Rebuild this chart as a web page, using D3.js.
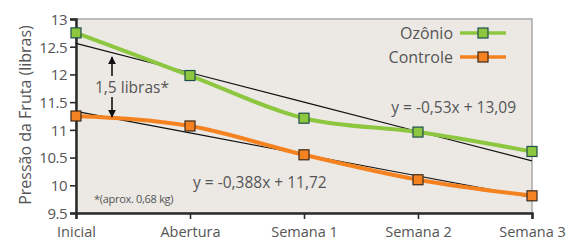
<!DOCTYPE html>
<html>
<head>
<meta charset="utf-8">
<script src="https://cdn.jsdelivr.net/npm/d3@7"></script>
<style>
  body { margin: 0; background: #fff; }
  svg text { font-family: "Open Sans", "Noto Sans", sans-serif; fill: #555; }
</style>
</head>
<body>
<svg id="chart" width="581" height="246"></svg>
<script>
// categories and series
const categories = ['Inicial', 'Abertura', 'Semana 1', 'Semana 2', 'Semana 3'];
const ozonio = [12.75, 11.98, 11.21, 10.96, 10.61];
const controle = [11.25, 11.07, 10.55, 10.10, 9.81];
const yTicks = [9.5, 10, 10.5, 11, 11.5, 12, 12.5, 13];
const yTickLabels = ['9.5', '10', '10.5', '11', '11.5', '12', '12.5', '13'];
// linear trend lines (y = a*x + b, x = 1..5)
const trendOzonio = { a: -0.53, b: 13.09, label: 'y = -0,53x + 13,09' };
const trendControle = { a: -0.388, b: 11.72, label: 'y = -0,388x + 11,72' };

const svg = d3.select('#chart');
const margin = { left: 76, right: 49, top: 19, bottom: 33 };
const width = 581 - margin.left - margin.right;
const height = 246 - margin.top - margin.bottom;

const x = d3.scalePoint().domain(categories).range([0, width]);
const y = d3.scaleLinear().domain([9.5, 13]).range([height, 0]);

const g = svg.append('g').attr('transform', `translate(${margin.left},${margin.top})`);

// plot background
g.append('rect')
  .attr('width', width)
  .attr('height', height)
  .style('fill', '#ece9e5')
  .style('stroke', '#aaa')
  .style('stroke-width', 1.5);

// axes
const yAxis = g.append('g').call(
  d3.axisLeft(y).tickValues(yTicks).tickFormat((d, i) => yTickLabels[i]).tickSize(6).tickPadding(3)
);
const xAxis = g.append('g').attr('transform', `translate(0,${height})`).call(
  d3.axisBottom(x).tickSize(6).tickPadding(8)
);
[yAxis, xAxis].forEach(ax => {
  ax.select('.domain').attr('stroke', '#2b2b2b').attr('stroke-width', 2.5);
  ax.selectAll('.tick line').attr('stroke', '#2b2b2b').attr('stroke-width', 1.6);
  ax.selectAll('.tick text').style('font-size', '15px').style('fill', '#555');
});
yAxis.selectAll('.tick text').attr('dy', '0.36em').style('letter-spacing', '-0.5px');
xAxis.selectAll('.tick text').style('font-size', '14.5px');

// trend lines
const trendLine = d3.line()
  .x((d, i) => x(categories[i]))
  .y(d => y(d));
[trendOzonio, trendControle].forEach(t => {
  const vals = categories.map((c, i) => t.a * (i + 1) + t.b);
  g.append('path')
    .attr('d', trendLine(vals))
    .style('fill', 'none')
    .style('stroke', '#111')
    .style('stroke-width', 1.2);
});

// data series
const series = [
  { name: 'Ozônio', values: ozonio, color: '#8dc63f', stroke: '#1f4f4a' },
  { name: 'Controle', values: controle, color: '#f58220', stroke: '#3b2a1c' },
];
const seriesLine = d3.line()
  .x((d, i) => x(categories[i]))
  .y(d => y(d))
  .curve(d3.curveMonotoneX);

series.forEach(s => {
  g.append('path')
    .attr('d', seriesLine(s.values))
    .style('fill', 'none')
    .style('stroke', s.color)
    .style('stroke-width', 4);
});
series.forEach(s => {
  g.selectAll(null).data(s.values).enter().append('rect')
    .attr('x', (d, i) => x(categories[i]) - 5)
    .attr('y', d => y(d) - 5)
    .attr('width', 10)
    .attr('height', 10)
    .style('fill', s.color)
    .style('stroke', s.stroke)
    .style('stroke-width', 1.2);
});

// legend
const legend = g.append('g').attr('transform', `translate(${453 - margin.left},${33 - margin.top})`);
series.forEach((s, i) => {
  const row = legend.append('g').attr('transform', `translate(0,${i * 24})`);
  row.append('text')
    .attr('text-anchor', 'end')
    .attr('dy', '0.35em')
    .style('font-size', '16px')
    .text(s.name);
  row.append('line')
    .attr('x1', 7).attr('x2', 53)
    .style('stroke', s.color)
    .style('stroke-width', 3.5);
  row.append('rect')
    .attr('x', 25).attr('y', -5)
    .attr('width', 10).attr('height', 10)
    .style('fill', s.color)
    .style('stroke', s.stroke)
    .style('stroke-width', 1.2);
});

// equation labels
g.append('text')
  .attr('x', 516 - margin.left).attr('y', 113 - margin.top)
  .attr('text-anchor', 'end')
  .style('font-size', '15.5px')
  .text(trendOzonio.label);
g.append('text')
  .attr('x', 193 - margin.left).attr('y', 188 - margin.top)
  .style('font-size', '15.5px')
  .text(trendControle.label);

// difference annotation at "Inicial"
const arrowX = x(categories[0]) + 36;
svg.append('defs').append('marker')
  .attr('id', 'arrowhead')
  .attr('viewBox', '0 0 10 10')
  .attr('refX', 9).attr('refY', 5)
  .attr('markerWidth', 5).attr('markerHeight', 5)
  .attr('orient', 'auto')
  .append('path')
  .attr('d', 'M0,0 L10,5 L0,10 Z')
  .style('fill', '#111');
g.append('line')
  .attr('x1', arrowX).attr('x2', arrowX)
  .attr('y1', 76 - margin.top).attr('y2', 57 - margin.top)
  .style('stroke', '#111').style('stroke-width', 1.6)
  .attr('marker-end', 'url(#arrowhead)');
g.append('line')
  .attr('x1', arrowX).attr('x2', arrowX)
  .attr('y1', 97 - margin.top).attr('y2', 117 - margin.top)
  .style('stroke', '#111').style('stroke-width', 1.6)
  .attr('marker-end', 'url(#arrowhead)');
g.append('text')
  .attr('x', 95 - margin.left).attr('y', 93 - margin.top)
  .style('font-size', '15.5px')
  .text('1,5 libras*');
g.append('text')
  .attr('x', 94 - margin.left).attr('y', 203 - margin.top)
  .style('font-size', '11px')
  .style('letter-spacing', '-0.3px')
  .text('*(aprox. 0,68 kg)');

// y axis title
svg.append('text')
  .attr('transform', `translate(31,${margin.top + height / 2 - 1}) rotate(-90)`)
  .attr('text-anchor', 'middle')
  .style('font-size', '16px')
  .text('Pressão da Fruta (libras)');
</script>
</body>
</html>
